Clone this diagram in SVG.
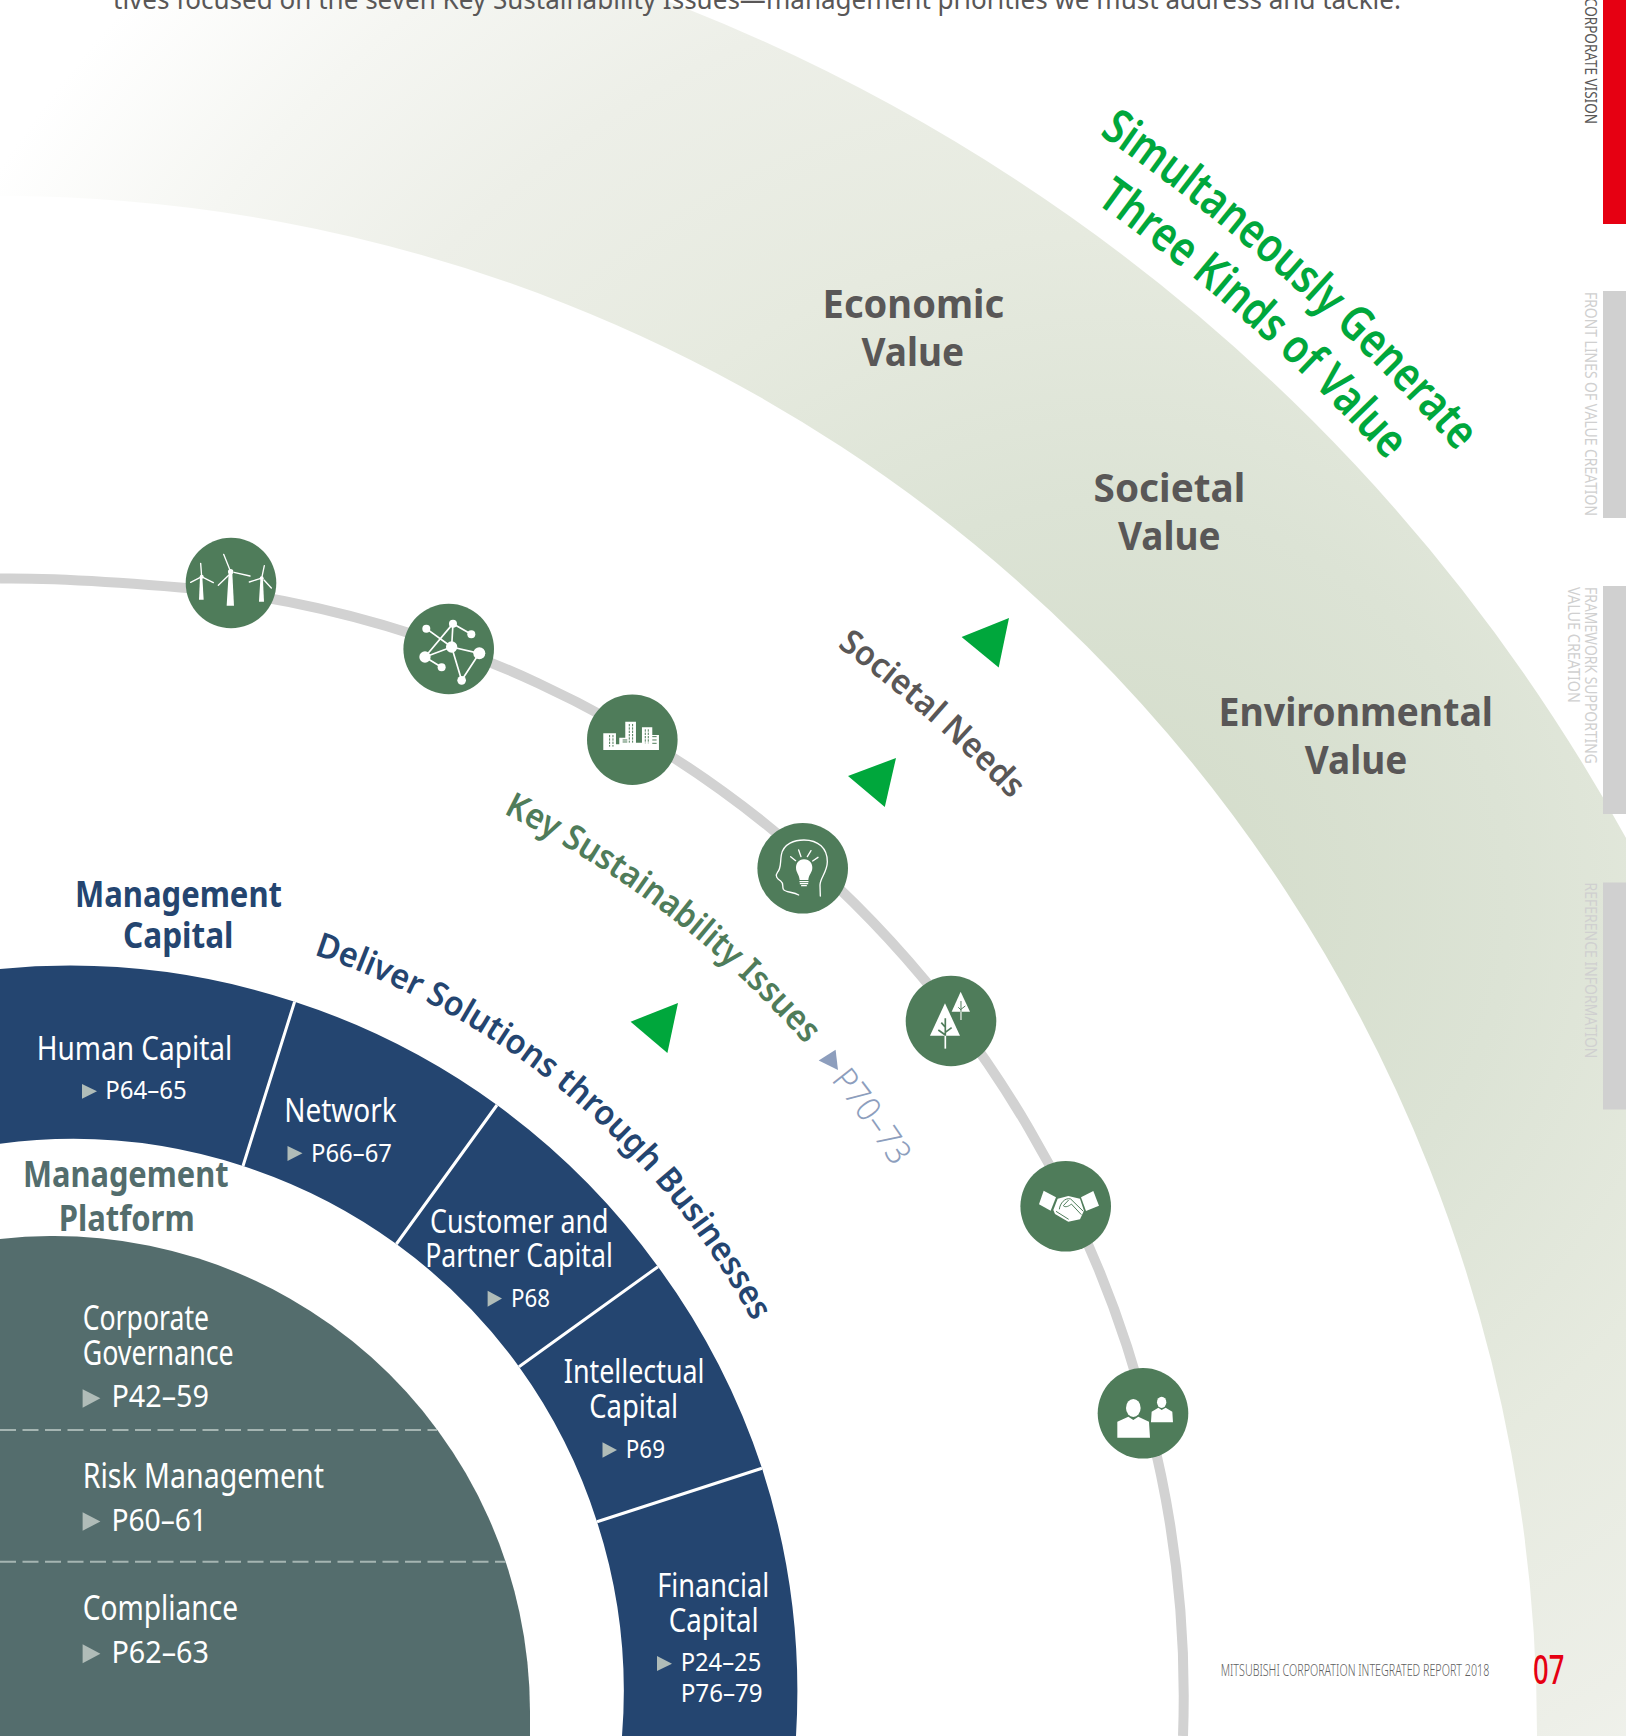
<svg xmlns="http://www.w3.org/2000/svg" width="1626" height="1736" viewBox="0 0 1626 1736">
<style>
text{font-family:"Noto Sans","Open Sans","Liberation Sans",sans-serif}
.b{font-weight:700;font-size:40px;fill:#595757}
.mc{font-weight:700;font-size:36px;fill:#244570}
.mp{font-weight:700;font-size:36px;fill:#536d6d}
.w{font-size:33px;fill:#fff;transform:translate(-.8px,.8px)}
.wp{font-size:25px;fill:#fff;transform:translate(-.8px,.5px)}
.t{font-size:34px;fill:#fff;transform:translate(-1px,.8px)}
.tp{font-size:31px;fill:#fff;transform:translate(-1px,.5px)}
.tri{fill:#b0bcb8}
.gt{fill:#00a73c}
.ic{fill:#4f7c5a}
.side{font-size:17px;fill:#d0d0d0}
.seg{fill:#244570}
.div{stroke:#fff;stroke-width:3;fill:none}
.dash{stroke:#a5b5b2;stroke-width:2;stroke-dasharray:16 6.5;fill:none}
.wl{stroke:#fff;fill:none;stroke-linecap:round}
.gl{stroke:#4f7c5a;fill:none}
</style>
<defs>
<radialGradient id="bandG" gradientUnits="userSpaceOnUse" cx="1110" cy="900" r="1330">
<stop offset="0" stop-color="#d2dbc8"/><stop offset=".3" stop-color="#dce3d5"/><stop offset=".5" stop-color="#e6eadf"/><stop offset=".7" stop-color="#edefe8"/><stop offset=".85" stop-color="#f5f6f2"/><stop offset="1" stop-color="#ffffff"/>
</radialGradient>
<path id="pS" d="M1098.9 134.2A1940 1940 0 0 1 1589.2 620.3"/>
<path id="pT" d="M1095.6 202.7A1882 1882 0 0 1 1541.7 653.5"/>
<path id="pN" d="M837 646.5A1294 1294 0 0 1 1192.6 1043"/>
<path id="pK" d="M503.3 813.3A977 977 0 0 1 990 1355.9"/>
<path id="pP" d="M830.8 1080A974 974 0 0 1 987 1357"/>
<path id="pD" d="M313.7 954.7A774 774 0 0 1 834.2 1555.6"/>
</defs>
<rect width="1626" height="1736" fill="#fff"/>
<circle id="value-band" cx="0" cy="1733" r="1696.5" fill="none" stroke="url(#bandG)" stroke-width="319"/>
<text x="113" y="9" font-size="28" fill="#595757" textLength="1288" lengthAdjust="spacingAndGlyphs">tives focused on the seven Key Sustainability Issues—management priorities we must address and tackle.</text>

<g id="connectors"><path d="M0 578.5Q80 577.5 231 592A1109.5 1109.5 0 0 1 1149.4 1425A1090 1090 0 0 1 1183 1736" fill="none" stroke="#d2d2d2" stroke-width="10"/></g>

<g id="sidebar">
<rect x="1603" y="0" width="23" height="224" fill="#e60012"/>
<rect x="1603" y="291" width="23" height="227" fill="#d0d0d0"/>
<rect x="1603" y="586" width="23" height="228" fill="#d0d0d0"/>
<rect x="1603" y="882.5" width="23" height="227" fill="#d0d0d0"/>
<text class="side" style="fill:#595757" transform="translate(1584.5,-2) rotate(90)" textLength="126" lengthAdjust="spacingAndGlyphs">CORPORATE VISION</text>
<text class="side" transform="translate(1584.5,292) rotate(90)" textLength="224" lengthAdjust="spacingAndGlyphs">FRONT LINES OF VALUE CREATION</text>
<text class="side" transform="translate(1584.5,587) rotate(90)" textLength="177" lengthAdjust="spacingAndGlyphs">FRAMEWORK SUPPORTING</text>
<text class="side" transform="translate(1568,587) rotate(90)" textLength="116" lengthAdjust="spacingAndGlyphs">VALUE CREATION</text>
<text class="side" transform="translate(1584.5,882.5) rotate(90)" textLength="176" lengthAdjust="spacingAndGlyphs">REFERENCE INFORMATION</text>
</g>

<g id="headline" font-weight="600" font-size="48" fill="#00a73c">
<text><textPath href="#pS" textLength="480" lengthAdjust="spacingAndGlyphs">Simultaneously Generate</textPath></text>
<text><textPath href="#pT" textLength="390" lengthAdjust="spacingAndGlyphs">Three Kinds of Value</textPath></text>
</g>

<g id="economic-value"><text class="b" x="822.6" y="318" textLength="181.5" lengthAdjust="spacingAndGlyphs">Economic</text><text class="b" x="861.5" y="365.5" textLength="102.5" lengthAdjust="spacingAndGlyphs">Value</text></g>
<g id="societal-value"><text class="b" x="1093.6" y="501.5" textLength="151.7" lengthAdjust="spacingAndGlyphs">Societal</text><text class="b" x="1118" y="549.5" textLength="102.5" lengthAdjust="spacingAndGlyphs">Value</text></g>
<g id="environmental-value"><text class="b" x="1218.5" y="725.5" textLength="274.5" lengthAdjust="spacingAndGlyphs">Environmental</text><text class="b" x="1304.8" y="773.7" textLength="102.5" lengthAdjust="spacingAndGlyphs">Value</text></g>

<g id="flow-arrows" class="gt">
<polygon points="1009,618 961.6,637 998.7,667.5"/>
<polygon points="896,758 848,776 884.8,807"/>
<polygon points="678,1003 630.6,1021.7 667.4,1053"/>
</g>

<g id="arc-labels" font-weight="600">
<text fill="#595757" font-size="34"><textPath href="#pN" textLength="232" lengthAdjust="spacingAndGlyphs">Societal Needs</textPath></text>
<text fill="#4f7c5a" font-size="35"><textPath href="#pK" textLength="383" lengthAdjust="spacingAndGlyphs">Key Sustainability Issues</textPath></text>
<text fill="#244570" font-size="34"><textPath href="#pD" textLength="586" lengthAdjust="spacingAndGlyphs">Deliver Solutions through Businesses</textPath></text>
</g>
<g id="issues-ref" fill="#8d9ebd">
<polygon points="818.7,1060.5 835.6,1049.8 838,1070"/>
<text font-size="34" font-weight="300"><textPath href="#pP" textLength="107" lengthAdjust="spacingAndGlyphs">P70–73</textPath></text>
</g>

<g id="icon-wind"><circle class="ic" cx="231" cy="583" r="45.3"/>
<g transform="translate(170,520) scale(.3333)" fill="#fff">
<polygon points="90,170 97,170 101,239 87,239"/><polygon points="176,160 187,160 192,257 170,257"/><polygon points="271,180 279,180 282,245 267,245"/>
<circle cx="95" cy="170" r="6"/><circle cx="182" cy="155" r="8"/><circle cx="275" cy="175" r="6"/>
<g class="wl" stroke-width="4"><path d="M95 170L92 130M91 172L62 187M99 172L130 188M182 155L161 103M176 166L145 196M192 157L240 168M275 175L283 137M270 176L238 186M282 180L304 204"/></g>
</g></g>

<g id="icon-network"><circle class="ic" cx="448.7" cy="649" r="45.3"/>
<g transform="translate(170,520) scale(.3333)" fill="#fff">
<path class="wl" stroke-width="5" d="M769 326L845 381M849 311L904 343M849 311L765 411M849 311L845 381M765 411L845 381M765 411L815 442M845 381L928 400M845 381L875 481M928 400L875 481"/>
<circle cx="769" cy="326" r="12"/><circle cx="849" cy="311" r="12"/><circle cx="904" cy="343" r="12"/><circle cx="845" cy="381" r="17"/><circle cx="765" cy="411" r="17"/><circle cx="815" cy="442" r="12"/><circle cx="928" cy="400" r="18"/><circle cx="875" cy="481" r="13"/>
</g></g>

<g id="icon-city"><circle class="ic" cx="632.3" cy="739.7" r="45.3"/>
<g transform="translate(170,520) scale(.3333)">
<polygon fill="#fff" points="1300,640 1300,690 1467,690 1467,645 1447,645 1447,622 1416,622 1416,668 1398,668 1398,605 1366,605 1366,653 1348,653 1348,673 1338,673 1338,640"/>
<path class="gl" stroke-width="3" stroke-dasharray="7 3" d="M1319 645V680M1329 645V680M1378 612V668M1388 612V668M1426 628V670M1435 628V670"/>
<path class="gl" stroke-width="3" d="M1358 660H1372M1358 666H1372M1447 650H1460M1447 660H1460M1447 670H1460"/>
</g></g>

<g id="icon-idea"><circle class="ic" cx="802.7" cy="868.3" r="45.3"/>
<g transform="translate(740,800) scale(.3333)">
<path class="wl" stroke-width="4" d="M176 285C160 275 135 278 130 268C126 258 132 250 122 243C112 236 104 228 112 218C124 205 120 190 124 165C130 130 165 120 192 120C235 120 262 145 262 185C262 215 240 235 240 255L241 288"/>
<path fill="#fff" d="M192 178C210 178 217 192 217 203C217 217 206 224 205 240H179C178 224 168 217 168 203C168 192 175 178 192 178Z"/>
<path class="wl" stroke-width="4" d="M180 245H204M181 251H203M185 257H199M152 170L167 182M176 150L183 170M213 152L202 170M234 172L218 183"/>
</g></g>

<g id="icon-trees"><circle class="ic" cx="951" cy="1021" r="45.3"/>
<g transform="translate(740,800) scale(.3333)">
<polygon fill="#fff" points="615,610 570,707 660,707"/>
<polygon fill="#fff" points="662,575 635,635 690,635"/>
<path d="M616 705V746" stroke="#fff" stroke-width="5"/>
<path d="M663 635V660" stroke="#dfe6df" stroke-width="4"/>
<path class="gl" stroke-width="5" d="M616 655V707M604 668L616 682M595 690L616 705M635 683L616 697"/>
<path class="gl" stroke-width="3" d="M663 603V635M655 622L663 630M676 618L663 628"/>
</g></g>

<g id="icon-handshake"><circle class="ic" cx="1065.7" cy="1206.3" r="45.3"/>
<g transform="translate(1000,1140) scale(.3333)">
<polygon fill="#fff" points="131,152 168,172 152,212 117,193"/>
<polygon fill="#fff" points="280,153 297,197 258,213 243,172"/>
<polygon fill="#fff" points="160,210 173,176 205,168 240,176 252,212 240,238 205,245 165,222"/>
<path class="gl" stroke-width="3" d="M178 208C180 190 195 172 212 177L250 214M206 180L190 197C196 204 208 198 214 192L244 224M168 214L206 238"/>
</g></g>

<g id="icon-people"><circle class="ic" cx="1143" cy="1413.3" r="45.3"/>
<g transform="translate(1000,1140) scale(.3333)" fill="#fff">
<ellipse cx="400" cy="804" rx="22" ry="27"/><ellipse cx="485" cy="787" rx="14" ry="17"/>
<polygon points="352,893 352,845 385,830 400,840 415,830 447,845 450,893"/>
<polygon points="453,847 455,815 475,803 485,810 497,803 517,815 519,847"/>
</g></g>

<g id="management-capital-title"><text class="mc" x="75" y="906.7" textLength="207" lengthAdjust="spacingAndGlyphs">Management</text><text class="mc" x="123" y="948" textLength="110.5" lengthAdjust="spacingAndGlyphs">Capital</text></g>

<g id="human-capital">
<path class="seg" d="M0 969A724 724 0 0 1 294.6 1001.7L243 1166A551 551 0 0 0 0 1143.7Z"/>
<text class="w" x="37.5" y="1059" textLength="195.5" lengthAdjust="spacingAndGlyphs">Human Capital</text>
<polygon class="tri" points="82,1084 97,1091.3 82,1098.7"/>
<text class="wp" x="106" y="1098" textLength="81.5" lengthAdjust="spacingAndGlyphs">P64–65</text>
</g>
<g id="network">
<path class="seg" d="M294.6 1001.7A724 724 0 0 1 497 1105L396.4 1244A551 551 0 0 0 243 1166Z"/>
<text class="w" x="285" y="1121" textLength="112.4" lengthAdjust="spacingAndGlyphs">Network</text>
<polygon class="tri" points="287.5,1146 302.5,1153.3 287.5,1161"/>
<text class="wp" x="311.8" y="1161.7" textLength="81" lengthAdjust="spacingAndGlyphs">P66–67</text>
</g>
<g id="customer-partner-capital">
<path class="seg" d="M497 1105A724 724 0 0 1 658 1266.7L519 1366.7A551 551 0 0 0 396.4 1244Z"/>
<text class="w" x="430.9" y="1232.6" textLength="178.4" lengthAdjust="spacingAndGlyphs">Customer and</text>
<text class="w" x="426" y="1266.5" textLength="187.6" lengthAdjust="spacingAndGlyphs">Partner Capital</text>
<polygon class="tri" points="487.6,1290.7 502,1298.5 487.6,1306.7"/>
<text class="wp" x="511.8" y="1306.7" textLength="39" lengthAdjust="spacingAndGlyphs">P68</text>
</g>
<g id="intellectual-capital">
<path class="seg" d="M658 1266.7A724 724 0 0 1 762 1468.3L597 1521.7A551 551 0 0 0 519 1366.7Z"/>
<text class="w" x="564.6" y="1382.5" textLength="140.7" lengthAdjust="spacingAndGlyphs">Intellectual</text>
<text class="w" x="590" y="1417.7" textLength="89" lengthAdjust="spacingAndGlyphs">Capital</text>
<polygon class="tri" points="602.5,1442.3 617,1450 602.5,1457.7"/>
<text class="wp" x="626.6" y="1457.3" textLength="39.2" lengthAdjust="spacingAndGlyphs">P69</text>
</g>
<g id="financial-capital">
<path class="seg" d="M762 1468.3A724 724 0 0 1 796 1736H622A551 551 0 0 0 597 1521.7Z"/>
<text class="w" x="658" y="1596.7" textLength="112" lengthAdjust="spacingAndGlyphs">Financial</text>
<text class="w" x="669.5" y="1631" textLength="89.9" lengthAdjust="spacingAndGlyphs">Capital</text>
<polygon class="tri" points="657,1656 672,1663.7 657,1671"/>
<text class="wp" x="681.5" y="1670.7" textLength="80.5" lengthAdjust="spacingAndGlyphs">P24–25</text>
<text class="wp" x="681.5" y="1701.7" textLength="82" lengthAdjust="spacingAndGlyphs">P76–79</text>
</g>
<g id="capital-dividers" class="div">
<path d="M294.6 1001.7L243 1166M497 1105L396.4 1244M658 1266.7L519 1366.7M762 1468.3L597 1521.7"/>
</g>

<g id="management-platform-title"><text class="mp" x="23" y="1186.7" textLength="205.5" lengthAdjust="spacingAndGlyphs">Management</text><text class="mp" x="58.7" y="1231" textLength="136" lengthAdjust="spacingAndGlyphs">Platform</text></g>

<g id="management-platform">
<path fill="#546d6d" d="M0 1239.1A476 476 0 0 1 530 1712V1736H0Z"/>
<path class="dash" d="M0 1430H437M0 1561.7H505.5"/>
<g id="corporate-governance">
<text class="t" x="83.7" y="1329.3" textLength="126.3" lengthAdjust="spacingAndGlyphs">Corporate</text>
<text class="t" x="83.7" y="1364" textLength="151" lengthAdjust="spacingAndGlyphs">Governance</text>
<polygon class="tri" points="82.6,1389.3 100.4,1398.3 82.6,1407.7"/>
<text class="tp" x="112.4" y="1406.7" textLength="97.6" lengthAdjust="spacingAndGlyphs">P42–59</text>
</g>
<g id="risk-management">
<text class="t" x="83.7" y="1487.3" textLength="241.3" lengthAdjust="spacingAndGlyphs">Risk Management</text>
<polygon class="tri" points="82.6,1512.3 100.4,1521.5 82.6,1530.7"/>
<text class="tp" x="112.4" y="1530.7" textLength="95.6" lengthAdjust="spacingAndGlyphs">P60–61</text>
</g>
<g id="compliance">
<text class="t" x="83.7" y="1619.3" textLength="155.3" lengthAdjust="spacingAndGlyphs">Compliance</text>
<polygon class="tri" points="82.6,1644.3 100.4,1653.8 82.6,1663.3"/>
<text class="tp" x="112.4" y="1662.7" textLength="97.6" lengthAdjust="spacingAndGlyphs">P62–63</text>
</g>
</g>

<g id="footer">
<text x="1220.7" y="1676" font-size="17" font-weight="300" fill="#5f5f5f" textLength="268.6" lengthAdjust="spacingAndGlyphs">MITSUBISHI CORPORATION INTEGRATED REPORT 2018</text>
<text x="1533" y="1683.8" font-size="40" font-weight="500" fill="#e60012" textLength="31.3" lengthAdjust="spacingAndGlyphs">07</text>
</g>
</svg>
